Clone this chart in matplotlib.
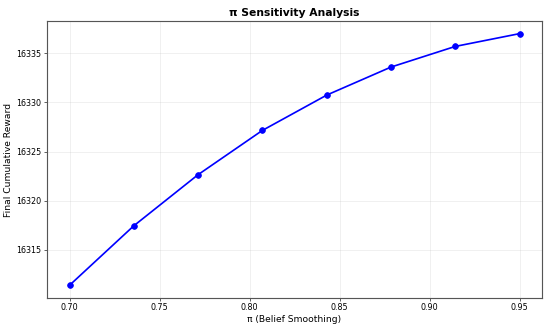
import numpy as np
import matplotlib
matplotlib.use('Agg')
import matplotlib.pyplot as plt

# pi values and final cumulative reward
pis = [0.70, 0.7357, 0.7714, 0.8071, 0.8429, 0.8786, 0.9143, 0.95]
rewards = [16311.4, 16317.45, 16322.65, 16327.15, 16330.75, 16333.6, 16335.7, 16337.0]

fig, ax = plt.subplots(figsize=(10, 6), dpi=55)
ax.plot(pis, rewards, 'o-', color='b', linewidth=2.2, markersize=7.5)
ax.set_xlabel('π (Belief Smoothing)', fontsize=12)
ax.set_ylabel('Final Cumulative Reward', fontsize=12)
ax.set_title('π Sensitivity Analysis', fontsize=14, fontweight='bold')
ax.tick_params(labelsize=10.5)
ax.grid(True, alpha=0.3)
for s in ax.spines.values():
    s.set_color('#555555')
    s.set_linewidth(1.5)
plt.subplots_adjust(left=47 / 550, right=542 / 550, top=1 - 21 / 329, bottom=1 - 297 / 329)
plt.savefig('out.png')
